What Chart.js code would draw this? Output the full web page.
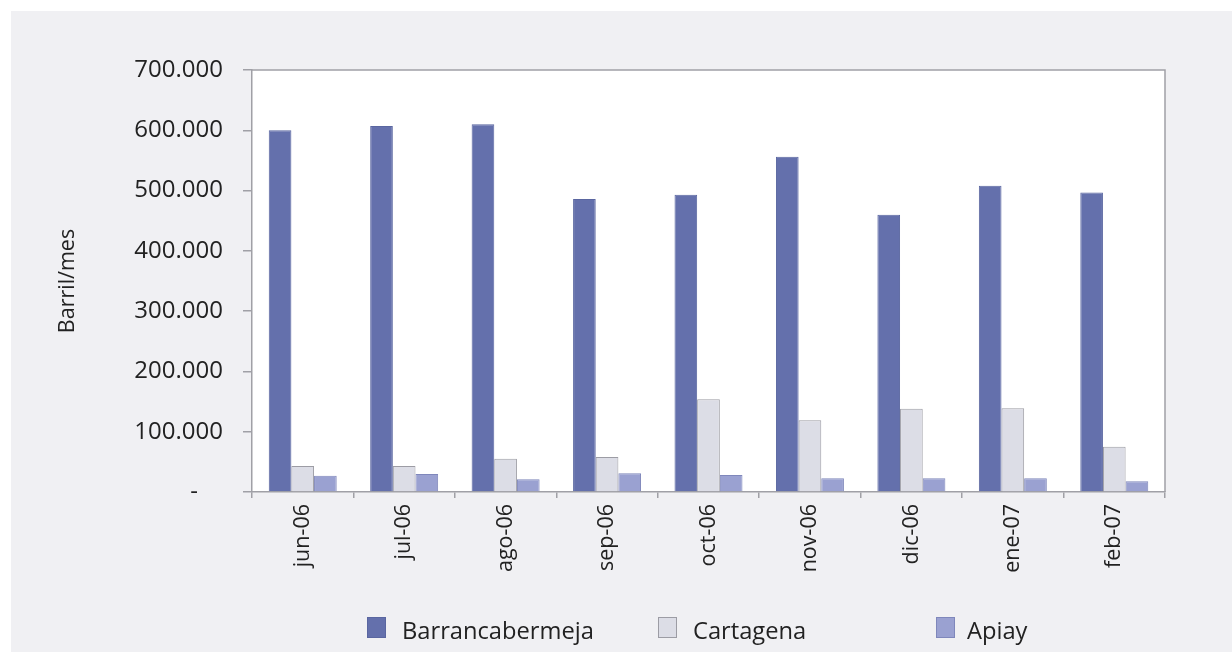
<!DOCTYPE html>
<html>
<head>
<meta charset="utf-8">
<script src="https://cdn.jsdelivr.net/npm/chart.js@4/dist/chart.umd.min.js"></script>
<style>
  html, body { margin: 0; padding: 0; background: #ffffff; width: 1232px; height: 653px; overflow: hidden; }
  #wrap { position: absolute; left: 11px; top: 11px; width: 1221px; height: 641px; background: #f0f0f3; }
  #c { position: absolute; left: 0; top: 0; }
  .leg { position: absolute; font-family: "Open Sans", sans-serif; font-size: 23.7px; color: #222; line-height: 1; white-space: nowrap; }
  .box { position: absolute; width: 19px; height: 21px; box-sizing: border-box; }
</style>
</head>
<body>
<div id="wrap">
  <canvas id="c" width="1221" height="641"></canvas>
</div>
<script>
const categories = ['jun-06', 'jul-06', 'ago-06', 'sep-06', 'oct-06', 'nov-06', 'dic-06', 'ene-07', 'feb-07'];
const barrancabermeja = [600000, 607000, 610000, 486000, 493000, 556000, 460000, 508000, 497000];
const cartagena = [43000, 43000, 55000, 58000, 154000, 119000, 138000, 139000, 75000];
const apiay = [27000, 30000, 21000, 31000, 28000, 23000, 23000, 23000, 18000];
const seriesNames = ['Barrancabermeja', 'Cartagena', 'Apiay'];
const yTickValues = [0, 100000, 200000, 300000, 400000, 500000, 600000, 700000];
const yTitle = 'Barril/mes';

const fillColors = ['#6470ac', '#dcdde6', '#9aa1d1'];
const borderColors = ['#5a66a0', '#9c9ca4', '#7f87bb'];

function fmt(v) {
  if (v === 0) return '-    ';
  return String(v).replace(/\B(?=(\d{3})+(?!\d))/g, '.');
}

const plotBg = {
  id: 'plotBg',
  beforeDraw(chart) {
    const { ctx, chartArea: a } = chart;
    ctx.save();
    ctx.fillStyle = '#ffffff';
    ctx.fillRect(a.left, a.top, a.right - a.left, a.bottom - a.top);
    ctx.restore();
  },
  afterDatasetsDraw(chart) {
    const { ctx, chartArea: a } = chart;
    ctx.save();
    ctx.strokeStyle = '#a0a0a6';
    ctx.lineWidth = 1.5;
    ctx.beginPath();
    ctx.moveTo(a.left, a.top);
    ctx.lineTo(a.right, a.top);
    ctx.lineTo(a.right, a.bottom);
    ctx.stroke();
    ctx.restore();
  }
};

new Chart(document.getElementById('c'), {
  type: 'bar',
  data: {
    labels: categories,
    datasets: [barrancabermeja, cartagena, apiay].map((d, i) => ({
      label: seriesNames[i],
      data: d,
      backgroundColor: fillColors[i],
      borderColor: borderColors[i],
      borderWidth: 1,
      categoryPercentage: 0.67,
      barPercentage: 1.0
    }))
  },
  options: {
    responsive: false,
    animation: false,
    layout: { padding: { top: 59, right: 67, left: 0, bottom: 0 } },
    plugins: { legend: { display: false }, tooltip: { enabled: false } },
    scales: {
      x: {
        grid: { offset: true, drawOnChartArea: false, drawTicks: true, tickLength: 6, color: '#a0a0a6', lineWidth: 1.5 },
        border: { display: true, color: '#a0a0a6', width: 1.5 },
        ticks: { minRotation: 90, maxRotation: 90, padding: 6, color: '#222', font: { family: 'Open Sans', size: 21.5 } },
        afterFit(s) { s.height = 160; }
      },
      y: {
        min: 0, max: 700000,
        afterBuildTicks(s) { s.ticks = yTickValues.map(v => ({ value: v })); },
        grid: { drawOnChartArea: false, drawTicks: true, tickLength: 9, color: '#a0a0a6', lineWidth: 1.5 },
        border: { display: true, color: '#a0a0a6', width: 1.5 },
        ticks: { padding: 20, color: '#222', font: { family: 'Open Sans', size: 24 }, callback: v => fmt(v) },
        title: { display: true, text: yTitle, color: '#222', font: { family: 'Open Sans', size: 21.5 }, padding: { top: 44, bottom: 0 } },
        afterFit(s) { s.width = 241; }
      }
    }
  },
  plugins: [plotBg]
});

// Legend (HTML)
const wrap = document.getElementById('wrap');
const legendPos = [[356, 391], [647, 682], [925, 956]];
seriesNames.forEach((n, i) => {
  const b = document.createElement('div');
  b.className = 'box';
  b.style.left = legendPos[i][0] + 'px';
  b.style.top = '606px';
  b.style.background = fillColors[i];
  b.style.border = '1px solid ' + borderColors[i];
  wrap.appendChild(b);
  const t = document.createElement('div');
  t.className = 'leg';
  t.textContent = n;
  t.style.left = legendPos[i][1] + 'px';
  t.style.top = '608px';
  wrap.appendChild(t);
});
</script>
</body>
</html>
